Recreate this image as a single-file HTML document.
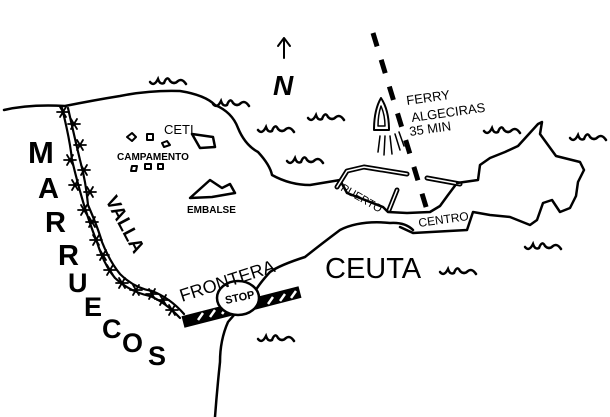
<!DOCTYPE html>
<html><head><meta charset="utf-8"><style>
html,body{margin:0;padding:0;background:#fff;}
svg{display:block}
text{font-family:"Liberation Sans",sans-serif;fill:#000;}
</style></head><body>
<svg width="610" height="417" viewBox="0 0 610 417" xmlns="http://www.w3.org/2000/svg">
<defs>
<path id="w" d="M0,4 q4,5 8,-3 q2,6 6,4 q3,-8 6,-2 q4,4 8,0 q4,-3 8,3" fill="none" stroke="#000" stroke-width="2.5" stroke-linecap="round"/>
<path id="st" d="M-6,0 L6,0 M-3,-5 L3,5 M-3,5 L3,-5" fill="none" stroke="#000" stroke-width="1.8" stroke-linecap="round"/>
</defs>
<g fill="none" stroke="#000" stroke-width="2.5" stroke-linejoin="round" stroke-linecap="round">
<path d="M4,110 Q30,104 65,106 Q95,100 120,96 Q150,90 180,91 Q205,95 215,105 Q232,112 238,128 Q245,145 258,152 Q270,165 272,175 Q290,185 310,185 L340,180"/>
<path d="M340,180 L347,193 L383,207 L388,212 L407,213 L430,212 L440,206 L448,195 L457,183"/>
<path d="M337,187 L347,171 L364,167 L407,174" stroke-width="5"/>
<path d="M337,187 L347,171 L364,167 L407,174" stroke="#fff" stroke-width="1.5"/>
<path d="M427,178 L460,184" stroke-width="5"/><path d="M427,178 L460,184" stroke="#fff" stroke-width="1.5"/>
<path d="M397,190 L389,210" stroke-width="5"/><path d="M397,190 L389,210" stroke="#fff" stroke-width="1.5"/>
<path d="M457,183 L478,180 L480,165 L490,158 L505,152 L518,146 L528,135 L538,124 L542,122 L540,134 L548,145 L556,156 L572,160 L580,162 L584,170 L578,182 L576,196 L570,208 L560,212 L552,200 L543,203 L537,220 L530,225 L510,217 L490,215 L473,212 L467,230 L413,233 L400,227"/>
<path d="M413,230 Q405,222 390,223 Q360,220 340,230 Q320,245 305,257 Q280,265 270,272 Q258,285 253,295 Q238,310 228,322 Q220,340 220,362 Q217,390 215,417"/>
<path d="M62,108 Q70,140 72,160 Q78,185 84,205 Q92,230 97,242 Q104,265 115,278 Q130,292 150,296 Q165,302 180,318" stroke-width="2.2"/>
<path d="M68,108 Q74,135 80,160 Q86,182 88,205 Q98,228 102,242 Q110,262 120,274 Q134,288 152,291 Q170,298 184,314" stroke-width="2.2"/>
<path d="M183,322 L300,292" stroke-width="12" stroke-linecap="butt"/>
<path d="M198,320 L203,313 M210,317 L215,310 M222,314 L227,307 M268,304 L273,297 M280,301 L285,294 M291,298 L296,291" stroke="#fff" stroke-width="2.5" stroke-linecap="butt"/>
<ellipse cx="238" cy="298" rx="21" ry="17" fill="#fff" stroke-width="2.5"/>
<path d="M373,33 L427,210" stroke-width="5" stroke-dasharray="14,14" stroke-linecap="butt"/>
<path d="M381,98 Q374,110 374,130 L389,130 Q389,110 381,98 Z" stroke-width="2"/>
<path d="M381,106 Q378,115 378,126 L385,126 Q385,115 381,106 Z" stroke-width="1.5"/>
<path d="M380,136 L378,152 M385,136 L384,155 M390,136 L392,154 M395,134 L400,150 M399,132 L404,146" stroke-width="1.5"/>
<path d="M127,137 l5,-4 l4,4 l-4,4z M147,134 l6,0 l0,6 l-6,0z M162,143 l5,-2 l3,4 l-6,2z M132,166 l5,0 l-1,5 l-5,0z M145,164 l6,0 l0,5 l-6,0z M158,164 l5,0 l0,5 l-5,0z" stroke-width="2"/>
<path d="M192,134 L213,137 L215,147 L200,148 Z" stroke-width="2.5"/>
<path d="M190,198 L210,180 L222,188 L230,184 L235,193 L212,197 Z" stroke-width="2.5"/>
<path d="M284,58 L284,38 M278,46 L284,38 L290,46" stroke-width="2"/>
</g>
<use href="#st" x="63" y="112"/><use href="#st" x="74" y="124"/><use href="#st" x="80" y="145"/>
<use href="#st" x="70" y="160"/><use href="#st" x="84" y="170"/><use href="#st" x="75" y="185"/>
<use href="#st" x="90" y="192"/><use href="#st" x="84" y="210"/><use href="#st" x="92" y="222"/>
<use href="#st" x="96" y="240"/><use href="#st" x="103" y="255"/><use href="#st" x="110" y="270"/>
<use href="#st" x="122" y="283"/><use href="#st" x="136" y="290"/><use href="#st" x="152" y="294"/>
<use href="#st" x="163" y="300"/><use href="#st" x="172" y="310"/>
<use href="#w" x="150" y="78"/><use href="#w" x="213" y="100"/><use href="#w" x="258" y="126"/>
<use href="#w" x="308" y="114"/><use href="#w" x="287" y="157"/><use href="#w" x="484" y="127"/>
<use href="#w" x="570" y="134"/><use href="#w" x="525" y="243"/><use href="#w" x="440" y="268"/>
<use href="#w" x="258" y="335"/>
<g font-weight="bold">
<text x="28" y="163" font-size="31">M</text>
<text x="38" y="198" font-size="29">A</text>
<text x="45" y="232" font-size="29">R</text>
<text x="58" y="265" font-size="29">R</text>
<text x="68" y="292" font-size="27">U</text>
<text x="84" y="316" font-size="27">E</text>
<text x="102" y="338" font-size="27">C</text>
<text x="122" y="352" font-size="27">O</text>
<text x="148" y="365" font-size="27">S</text>
<text x="273" y="95" font-size="28" font-style="italic">N</text>
</g>
<text font-size="19" font-weight="bold" transform="translate(105,200) rotate(62)">VALLA</text>
<text x="164" y="134" font-size="13">CETI</text>
<text x="117" y="160" font-size="10" font-weight="bold">CAMPAMENTO</text>
<text x="187" y="213" font-size="10" font-weight="bold">EMBALSE</text>
<text font-size="18" transform="translate(182,302) rotate(-18)">FRONTERA</text>
<text font-size="11" font-weight="bold" transform="translate(226,304) rotate(-12)">STOP</text>
<text x="325" y="278" font-size="29">CEUTA</text>
<text font-size="12" transform="translate(419,227) rotate(-8)">CENTRO</text>
<text font-size="11" transform="translate(340,190) rotate(30)">PUERTO</text>
<text font-size="13" transform="translate(407,105) rotate(-8)">FERRY</text>
<text font-size="13" transform="translate(412,122) rotate(-8)">ALGECIRAS</text>
<text font-size="13" transform="translate(410,136) rotate(-8)">35 MIN</text>
</svg>
</body></html>
